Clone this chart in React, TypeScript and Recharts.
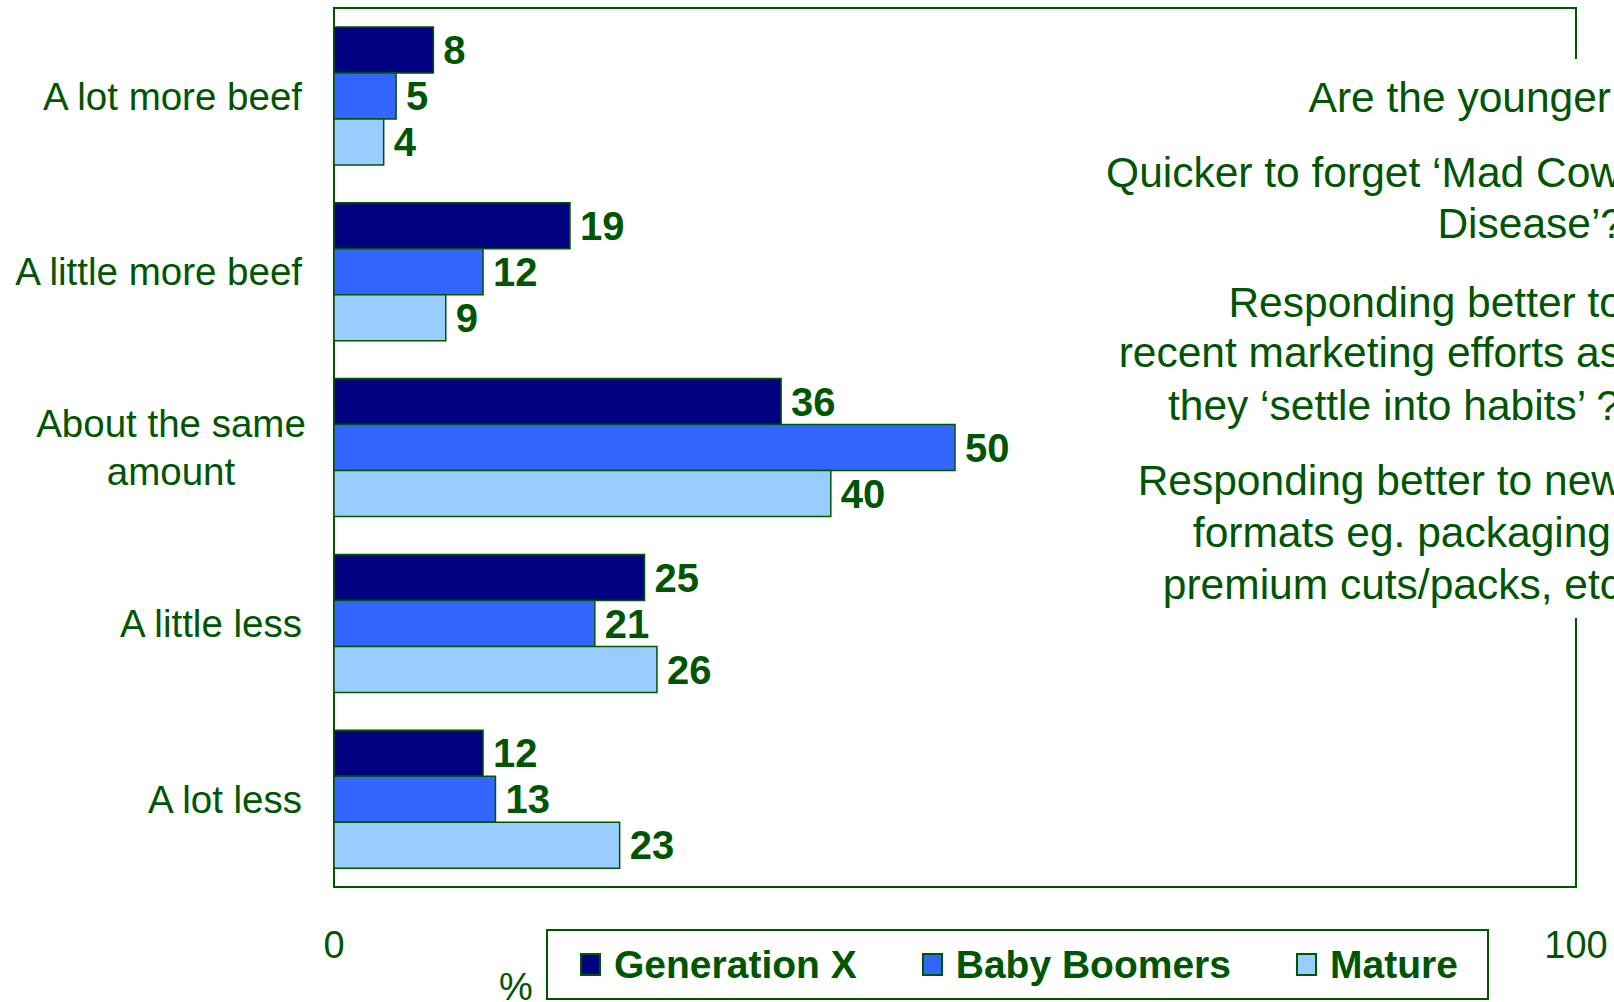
import React from "react";
import {
  BarChart,
  Bar,
  XAxis,
  YAxis,
  Legend,
  LabelList,
  ReferenceArea,
  Label,
} from "recharts";

const categories = [
  "A lot more beef",
  "A little more beef",
  "About the same\namount",
  "A little less",
  "A lot less",
];
const generationX = [8, 19, 36, 25, 12];
const babyBoomers = [5, 12, 50, 21, 13];
const mature = [4, 9, 40, 26, 23];
const xTicks = [0, 100];

const noteLines = [
  "Are the younger",
  "Quicker to forget \u2018Mad Cow",
  "Disease\u2019?",
  "Responding better to",
  "recent marketing efforts as",
  "they \u2018settle into habits\u2019 ?",
  "Responding better to new",
  "formats eg. packaging",
  "premium cuts/packs, etc",
];

const GREEN = "#005500";
const FONT = '"Liberation Sans", Arial, sans-serif';

const series = [
  { key: "genX", name: "Generation X", color: "#000080" },
  { key: "boomers", name: "Baby Boomers", color: "#3366FF" },
  { key: "mature", name: "Mature", color: "#99CCFF" },
];

const data = categories.map((name, i) => ({
  name,
  genX: generationX[i],
  boomers: babyBoomers[i],
  mature: mature[i],
}));

// where each note line sits (center y, right edge)
const noteY = [98, 173, 224, 303, 353, 406, 481, 533, 585];
const noteRight = [1611, 1621, 1624, 1623, 1621, 1620, 1622, 1611, 1621];

const CategoryTick = (props: any) => {
  const { x, y, payload } = props;
  const lines = String(payload.value).split("\n");
  const style = { fontSize: 38.5, fontFamily: FONT, fill: GREEN };
  if (lines.length === 1) {
    return (
      <text x={x} y={y} dy="0.355em" textAnchor="end" style={style}>
        {lines[0]}
      </text>
    );
  }
  const cx = x - 131;
  return (
    <text textAnchor="middle" style={style}>
      {lines.map((l, i) => (
        <tspan key={i} x={cx} y={y + (i - (lines.length - 1) / 2) * 48} dy="0.355em">
          {l}
        </tspan>
      ))}
    </text>
  );
};

// legend drawn in series order
const renderLegend = () => (
  <div style={{ display: "flex", alignItems: "center", height: "100%", paddingLeft: 32, whiteSpace: "nowrap" }}>
    {series.map((s) => (
      <div key={s.key} style={{ display: "flex", alignItems: "center", marginRight: 65, flexShrink: 0 }}>
        <span
          style={{
            display: "inline-block",
            width: 21,
            height: 23,
            boxSizing: "border-box",
            border: `2px solid ${GREEN}`,
            background: s.color,
            marginRight: 13,
            flexShrink: 0,
          }}
        />
        <span style={{ fontSize: 39, fontWeight: "bold", color: GREEN, fontFamily: FONT, lineHeight: "44px" }}>
          {s.name}
        </span>
      </div>
    ))}
  </div>
);

const App = () => {
  return (
    <div
      style={{
        position: "absolute",
        left: 0,
        top: 0,
        width: 1614,
        height: 1002,
        overflow: "hidden",
        background: "#fff",
        fontFamily: FONT,
      }}
    >
      <BarChart
        width={1614}
        height={1002}
        data={data}
        layout="vertical"
        margin={{ top: 8, right: 38, bottom: 0, left: 0 }}
        barCategoryGap="10.8%"
        barGap={0}
      >
        <XAxis
          type="number"
          domain={[0, 100]}
          ticks={xTicks}
          axisLine={false}
          tickLine={false}
          tickMargin={38}
          height={115}
          tick={{ fontSize: 38, fill: GREEN, fontFamily: FONT }}
        >
          <Label
            value="%"
            position="insideBottomLeft"
            offset={2}
            dx={163}
            style={{ fontSize: 38, fill: GREEN, fontFamily: FONT }}
          />
        </XAxis>
        <YAxis
          type="category"
          dataKey="name"
          width={334}
          axisLine={false}
          tickLine={false}
          tickMargin={26}
          tick={<CategoryTick />}
          interval={0}
        />
        <ReferenceArea
          x1={0}
          x2={100}
          fill="none"
          stroke={GREEN}
          strokeWidth={2}
          ifOverflow="visible"
        />
        {series.map((s) => (
          <Bar
            key={s.key}
            dataKey={s.key}
            name={s.name}
            fill={s.color}
            stroke={GREEN}
            strokeWidth={1.5}
            isAnimationActive={false}
          >
            <LabelList
              dataKey={s.key}
              position="right"
              offset={10}
              style={{ fontSize: 40, fontWeight: "bold", fill: GREEN, fontFamily: FONT }}
            />
          </Bar>
        ))}
        <Legend
          layout="horizontal"
          verticalAlign="middle"
          align="center"
          content={renderLegend}
          wrapperStyle={{
            left: 546,
            top: 929,
            width: 943,
            height: 71,
            boxSizing: "border-box",
            border: `2px solid ${GREEN}`,
            background: "#fff",
          }}
        />
      </BarChart>

      {/* note box over the right frame */}
      <div
        style={{
          position: "absolute",
          left: 1090,
          top: 59,
          width: 540,
          height: 559,
          background: "#fff",
        }}
      />
      {noteLines.map((line, i) => (
        <div
          key={i}
          style={{
            position: "absolute",
            top: noteY[i] - 25,
            right: 1614 - noteRight[i],
            height: 50,
            lineHeight: "50px",
            fontSize: 42.5,
            color: GREEN,
            whiteSpace: "nowrap",
            fontFamily: FONT,
          }}
        >
          {line}
        </div>
      ))}
    </div>
  );
};

export default App;
